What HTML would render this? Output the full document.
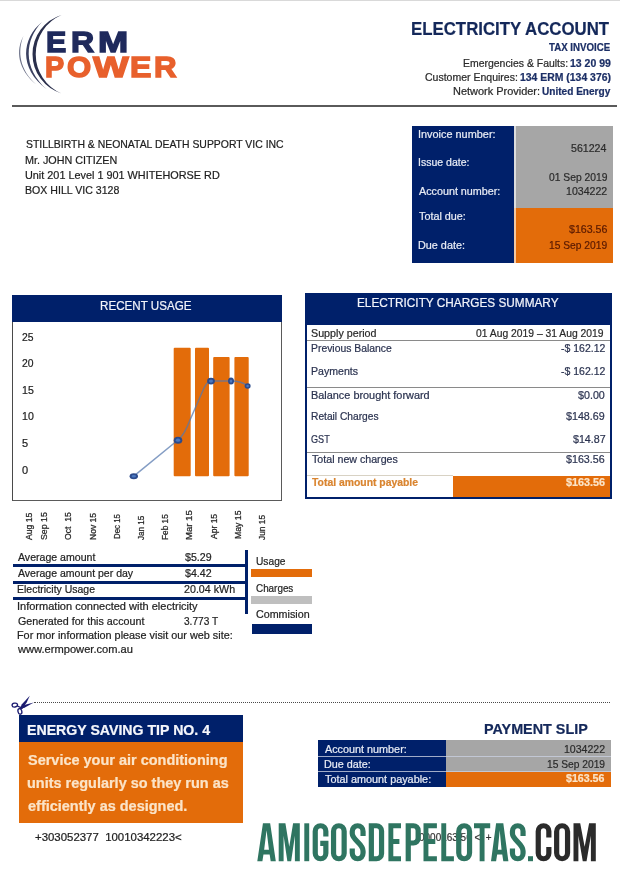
<!DOCTYPE html>
<html lang="en">
<head>
<meta charset="utf-8">
<title>ERM Power - Electricity Account</title>
<style>
html,body{margin:0;padding:0;background:#fff;}
body{width:620px;height:886px;position:relative;overflow:hidden;font-family:"Liberation Sans",sans-serif;}
.b{position:absolute;}
.t{position:absolute;white-space:pre;transform-origin:0 0;font-family:"Liberation Sans",sans-serif;-webkit-text-stroke-width:.22px;}
.m{font-size:8.3px;line-height:8.3px;color:#262626;-webkit-text-stroke:.25px #262626;}
svg{position:absolute;left:0;top:0;overflow:visible;}
</style>
</head>
<body>
<div id="pg" style="position:absolute;left:0;top:0;width:620px;height:886px;filter:blur(.38px)">
<!-- top hairline -->
<div class="b" style="left:0;top:0;width:620px;height:1px;background:#d9d9d9"></div>
<!-- header rule -->
<div class="b" style="left:12px;top:105px;width:605px;height:2px;background:#5a5a5a"></div>

<!-- invoice box -->
<div class="b" style="left:412px;top:126px;width:102.2px;height:136.5px;background:#00206a"></div>
<div class="b" style="left:514.2px;top:126px;width:98.8px;height:82px;background:#a6a6a6"></div>
<div class="b" style="left:514.2px;top:208px;width:98.8px;height:54.5px;background:#e36c0a"></div>
<div class="b" style="left:514.2px;top:126px;width:1.6px;height:136.5px;background:rgba(255,255,255,.62)"></div>

<!-- recent usage box -->
<div class="b" style="left:11.6px;top:295.2px;width:270.2px;height:205.6px;box-sizing:border-box;border:1.7px solid #5a5a5a;border-top:none;border-left-color:#4a4a4a"></div>
<div class="b" style="left:11.6px;top:295.2px;width:270.2px;height:26.7px;background:#00206a"></div>

<!-- charges summary box -->
<div class="b" style="left:305px;top:292.5px;width:307px;height:206.5px;box-sizing:border-box;border:2.2px solid #00206a"></div>
<div class="b" style="left:305px;top:292.5px;width:307px;height:32.5px;background:#00206a"></div>
<div class="b" style="left:307px;top:340px;width:303px;height:1px;background:#8a8a8a"></div>
<div class="b" style="left:307px;top:387.4px;width:303px;height:1px;background:#8a8a8a"></div>
<div class="b" style="left:307px;top:452px;width:303px;height:1px;background:#8a8a8a"></div>
<div class="b" style="left:307px;top:475.2px;width:146px;height:1.3px;background:#d8d2c4"></div>
<div class="b" style="left:453px;top:476px;width:157px;height:21px;background:#e36c0a"></div>

<!-- stats lines -->
<div class="b" style="left:12.5px;top:564.2px;width:233px;height:2.7px;background:#00206a"></div>
<div class="b" style="left:12.5px;top:580.9px;width:233px;height:2.7px;background:#00206a"></div>
<div class="b" style="left:12.5px;top:597.1px;width:233px;height:2.7px;background:#00206a"></div>
<div class="b" style="left:245px;top:550px;width:2.7px;height:63.5px;background:#00206a"></div>
<!-- legend -->
<div class="b" style="left:250.5px;top:568.6px;width:61.7px;height:8px;background:#e36c0a"></div>
<div class="b" style="left:251.3px;top:595.7px;width:60.9px;height:8px;background:#bfbfbf"></div>
<div class="b" style="left:252.4px;top:624px;width:59.8px;height:9.8px;background:#00206a"></div>

<!-- tip box -->
<div class="b" style="left:19px;top:714.5px;width:223.5px;height:27.5px;background:#00206a"></div>
<div class="b" style="left:19px;top:742px;width:223.5px;height:80.6px;background:#e36c0a"></div>

<!-- payment slip -->
<div class="b" style="left:318.3px;top:740px;width:127.5px;height:46.5px;background:#00206a"></div>
<div class="b" style="left:445.8px;top:740px;width:164.8px;height:32px;background:#a6a6a6"></div>
<div class="b" style="left:445.8px;top:772px;width:164.8px;height:14.5px;background:#e36c0a"></div>
<div class="b" style="left:318.3px;top:755.8px;width:292.3px;height:1px;background:#c9cfe0;opacity:.8"></div>
<div class="b" style="left:318.3px;top:771px;width:292.3px;height:1px;background:#c9cfe0;opacity:.8"></div>

<!-- dotted cut line -->
<div class="b" style="left:34px;top:701.5px;width:576.3px;height:0;border-top:1.2px dotted #4a4a4a"></div>

<svg width="620" height="886" viewBox="0 0 620 886">
<!-- logo arcs -->
<g fill="#2a2f4c">
<path d="M61.5 15 A41 41 0 0 0 61.5 93.4 A42.7 42.7 0 0 1 61.5 15 Z"/>
<path d="M42 22 C22 38 18 68 47 89.5 C22 68 25 39 42 22 Z" fill="#3a4060"/>
<path d="M23.5 36 C15.5 50 17.5 70 37 85 C19.3 70 17.3 51 23.5 36 Z" fill="#6c7188"/>
</g>
<!-- chart bars -->
<g fill="#e36c0a">
<rect x="173.7" y="347.7" width="17" height="128.5" rx="1"/>
<rect x="195" y="347.7" width="14" height="128.5" rx="1"/>
<rect x="213.2" y="356.9" width="16.4" height="119.3" rx="1"/>
<rect x="234.4" y="356.9" width="14.3" height="119.3" rx="1"/>
</g>
<!-- chart line -->
<path d="M133.8 476.2 L178 440 C183 436 187 428 190 420 L204 388 C206 384 208 381.3 211 381.1 L231 381.1 C238 381.1 243 382.2 247.6 386" fill="none" stroke="#5577ad" stroke-opacity=".72" stroke-width="1.5"/>
<g fill="#2c4b8c">
<ellipse cx="133.8" cy="476.2" rx="4.2" ry="3"/>
<ellipse cx="178" cy="440.2" rx="4.3" ry="3.5"/>
<ellipse cx="211" cy="381.1" rx="3.9" ry="3.4"/>
<ellipse cx="231" cy="381.1" rx="3" ry="3.5"/>
<ellipse cx="247.6" cy="386" rx="3" ry="2.8"/>
</g>
<g fill="#4a78c2">
<ellipse cx="133.8" cy="476.2" rx="2.2" ry="1.3"/>
<ellipse cx="178" cy="440.2" rx="2.2" ry="1.6"/>
<ellipse cx="211" cy="381.1" rx="2" ry="1.6"/>
<ellipse cx="231" cy="381.1" rx="1.3" ry="1.7"/>
<ellipse cx="247.6" cy="386" rx="1.3" ry="1.2"/>
</g>
<!-- scissors -->
<g fill="none" stroke="#1b1b70" stroke-width="1.35">
<ellipse cx="14.8" cy="705.1" rx="2.75" ry="1.95" transform="rotate(-8 14.8 705.1)"/>
<ellipse cx="19.9" cy="711.4" rx="1.9" ry="2.9" transform="rotate(-14 19.9 711.4)"/>
<path d="M17.3 706 L21 707.6"/>
</g>
<g fill="#1b1b70">
<path d="M19.4 709.3 L21.9 704.2 L29.8 695.8 L26.8 702.2 L22.3 708.9 Z"/>
<path d="M21.2 706.6 L26 704.6 L33.8 702.6 L25.4 707.3 L21.6 708.8 Z"/>
</g>
</svg>

<span class="t" style="left:411.35px;top:19.86px;font-size:18.6px;line-height:18.6px;font-weight:700;color:#14285a;transform:scaleX(0.9045)">ELECTRICITY ACCOUNT</span>
<span class="t" style="left:549.31px;top:42.98px;font-size:10.3px;line-height:10.3px;font-weight:700;color:#1c2f66;transform:scaleX(0.9415)">TAX INVOICE</span>
<span class="t" style="left:463.06px;top:57.83px;font-size:10.6px;line-height:10.6px;color:#2a2a2a;transform:scaleX(0.9863)">Emergencies &amp; Faults:</span>
<span class="t" style="left:569.66px;top:57.83px;font-size:10.6px;line-height:10.6px;font-weight:700;color:#1c2f66;transform:scaleX(0.9909)">13 20 99</span>
<span class="t" style="left:425.00px;top:71.63px;font-size:10.6px;line-height:10.6px;color:#2a2a2a;transform:scaleX(0.9921)">Customer Enquires:</span>
<span class="t" style="left:519.86px;top:71.63px;font-size:10.6px;line-height:10.6px;font-weight:700;color:#1c2f66;transform:scaleX(0.9838)">134 ERM (134 376)</span>
<span class="t" style="left:453.12px;top:86.23px;font-size:10.6px;line-height:10.6px;color:#2a2a2a;transform:scaleX(1.0335)">Network Provider:</span>
<span class="t" style="left:541.93px;top:86.23px;font-size:10.6px;line-height:10.6px;font-weight:700;color:#1c2f66;transform:scaleX(0.9507)">United Energy</span>
<span class="t" style="left:25.57px;top:139.09px;font-size:11px;line-height:11px;color:#1e1e1e;transform:scaleX(0.9486)">STILLBIRTH &amp; NEONATAL DEATH SUPPORT VIC INC</span>
<span class="t" style="left:25.12px;top:154.59px;font-size:11px;line-height:11px;color:#1e1e1e;transform:scaleX(0.9804)">Mr. JOHN CITIZEN</span>
<span class="t" style="left:25.21px;top:170.09px;font-size:11px;line-height:11px;color:#1e1e1e;transform:scaleX(0.9864)">Unit 201 Level 1 901 WHITEHORSE RD</span>
<span class="t" style="left:25.13px;top:185.49px;font-size:11px;line-height:11px;color:#1e1e1e;transform:scaleX(0.9622)">BOX HILL VIC 3128</span>
<span class="t" style="left:417.91px;top:129.49px;font-size:11px;line-height:11px;color:#e8ecf5;transform:scaleX(0.9907)">Invoice number:</span>
<span class="t" style="left:417.94px;top:157.19px;font-size:11px;line-height:11px;color:#e8ecf5;transform:scaleX(0.9565)">Issue date:</span>
<span class="t" style="left:418.90px;top:185.99px;font-size:11px;line-height:11px;color:#e8ecf5;transform:scaleX(0.9781)">Account number:</span>
<span class="t" style="left:418.70px;top:210.69px;font-size:11px;line-height:11px;color:#e8ecf5;transform:scaleX(0.9819)">Total due:</span>
<span class="t" style="left:418.01px;top:239.79px;font-size:11px;line-height:11px;color:#e8ecf5;transform:scaleX(0.9838)">Due date:</span>
<span class="t" style="left:571.41px;top:142.69px;font-size:11px;line-height:11px;color:#2b2b2b;transform:scaleX(0.9642)">561224</span>
<span class="t" style="left:548.53px;top:171.79px;font-size:11px;line-height:11px;color:#2b2b2b;transform:scaleX(0.9370)">01 Sep 2019</span>
<span class="t" style="left:565.83px;top:185.99px;font-size:11px;line-height:11px;color:#2b2b2b;transform:scaleX(0.9613)">1034222</span>
<span class="t" style="left:568.60px;top:224.49px;font-size:11px;line-height:11px;color:#5a1a00;transform:scaleX(0.9644)">$163.56</span>
<span class="t" style="left:548.85px;top:239.79px;font-size:11px;line-height:11px;color:#5a1a00;transform:scaleX(0.9317)">15 Sep 2019</span>
<span class="t" style="left:100.39px;top:298.90px;font-size:13px;line-height:13px;color:#f2f4fa;transform:scaleX(0.8940)">RECENT USAGE</span>
<span class="t" style="left:21.78px;top:331.59px;font-size:11px;line-height:11px;color:#222;transform:scaleX(0.9407)">25</span>
<span class="t" style="left:21.78px;top:357.89px;font-size:11px;line-height:11px;color:#222;transform:scaleX(0.9407)">20</span>
<span class="t" style="left:21.53px;top:384.99px;font-size:11px;line-height:11px;color:#222;transform:scaleX(0.9621)">15</span>
<span class="t" style="left:21.53px;top:411.09px;font-size:11px;line-height:11px;color:#222;transform:scaleX(0.9621)">10</span>
<span class="t" style="left:21.90px;top:438.39px;font-size:11px;line-height:11px;color:#222;transform:scaleX(1.0000)">5</span>
<span class="t" style="left:21.90px;top:464.99px;font-size:11px;line-height:11px;color:#222;transform:scaleX(1.0000)">0</span>
<span class="t" style="left:357.33px;top:297.16px;font-size:12.8px;line-height:12.8px;color:#f2f4fa;transform:scaleX(0.9222)">ELECTRICITY CHARGES SUMMARY</span>
<span class="t" style="left:311.26px;top:328.29px;font-size:11px;line-height:11px;color:#2a2a2a;transform:scaleX(0.9735)">Supply period</span>
<span class="t" style="left:476.22px;top:328.29px;font-size:11px;line-height:11px;color:#2a2a2a;transform:scaleX(0.9391)">01 Aug 2019 – 31 Aug 2019</span>
<span class="t" style="left:310.85px;top:342.89px;font-size:11px;line-height:11px;color:#2b3350;transform:scaleX(0.9438)">Previous Balance</span>
<span class="t" style="left:560.57px;top:342.89px;font-size:11px;line-height:11px;color:#2b3350;transform:scaleX(0.9536)">-$ 162.12</span>
<span class="t" style="left:310.84px;top:366.19px;font-size:11px;line-height:11px;color:#2b3350;transform:scaleX(0.9610)">Payments</span>
<span class="t" style="left:560.57px;top:366.19px;font-size:11px;line-height:11px;color:#2b3350;transform:scaleX(0.9536)">-$ 162.12</span>
<span class="t" style="left:310.81px;top:389.99px;font-size:11px;line-height:11px;color:#2b3350;transform:scaleX(0.9900)">Balance brought forward</span>
<span class="t" style="left:578.20px;top:389.99px;font-size:11px;line-height:11px;color:#2b3350;transform:scaleX(0.9737)">$0.00</span>
<span class="t" style="left:310.86px;top:411.29px;font-size:11px;line-height:11px;color:#2b3350;transform:scaleX(0.9286)">Retail Charges</span>
<span class="t" style="left:566.40px;top:411.29px;font-size:11px;line-height:11px;color:#2b3350;transform:scaleX(0.9733)">$148.69</span>
<span class="t" style="left:311.24px;top:433.79px;font-size:11px;line-height:11px;color:#2b3350;transform:scaleX(0.8286)">GST</span>
<span class="t" style="left:572.50px;top:433.79px;font-size:11px;line-height:11px;color:#2b3350;transform:scaleX(0.9689)">$14.87</span>
<span class="t" style="left:311.51px;top:454.39px;font-size:11px;line-height:11px;color:#2b3350;transform:scaleX(0.9681)">Total new charges</span>
<span class="t" style="left:566.40px;top:454.39px;font-size:11px;line-height:11px;color:#2b3350;transform:scaleX(0.9721)">$163.56</span>
<span class="t" style="left:311.61px;top:477.19px;font-size:11px;line-height:11px;font-weight:700;color:#d9842f;transform:scaleX(0.9446)">Total amount payable</span>
<span class="t" style="left:565.90px;top:477.19px;font-size:11px;line-height:11px;font-weight:700;color:#fbe4c8;transform:scaleX(0.9823)">$163.56</span>
<span class="t" style="left:18.20px;top:551.89px;font-size:11px;line-height:11px;color:#232323;transform:scaleX(0.9607)">Average amount</span>
<span class="t" style="left:184.60px;top:551.89px;font-size:11px;line-height:11px;color:#232323;transform:scaleX(0.9662)">$5.29</span>
<span class="t" style="left:18.20px;top:568.09px;font-size:11px;line-height:11px;color:#232323;transform:scaleX(0.9571)">Average amount per day</span>
<span class="t" style="left:184.60px;top:568.09px;font-size:11px;line-height:11px;color:#232323;transform:scaleX(0.9662)">$4.42</span>
<span class="t" style="left:17.34px;top:584.49px;font-size:11px;line-height:11px;color:#232323;transform:scaleX(0.9522)">Electricity Usage</span>
<span class="t" style="left:184.17px;top:584.49px;font-size:11px;line-height:11px;color:#232323;transform:scaleX(0.9715)">20.04 kWh</span>
<span class="t" style="left:17.20px;top:601.49px;font-size:11px;line-height:11px;color:#232323;transform:scaleX(1.0013)">Information connected with electricity</span>
<span class="t" style="left:17.66px;top:615.99px;font-size:11px;line-height:11px;color:#232323;transform:scaleX(0.9750)">Generated for this account</span>
<span class="t" style="left:184.33px;top:615.99px;font-size:11px;line-height:11px;color:#232323;transform:scaleX(0.9187)">3.773 T</span>
<span class="t" style="left:17.31px;top:629.69px;font-size:11px;line-height:11px;color:#232323;transform:scaleX(0.9857)">For mor information please visit our web site:</span>
<span class="t" style="left:18.25px;top:644.29px;font-size:11px;line-height:11px;color:#232323;transform:scaleX(1.0112)">www.ermpower.com.au</span>
<span class="t" style="left:255.76px;top:556.29px;font-size:11px;line-height:11px;color:#232323;transform:scaleX(0.9270)">Usage</span>
<span class="t" style="left:256.01px;top:582.89px;font-size:11px;line-height:11px;color:#232323;transform:scaleX(0.8973)">Charges</span>
<span class="t" style="left:255.96px;top:609.19px;font-size:11px;line-height:11px;color:#232323;transform:scaleX(0.9741)">Commision</span>
<span class="t" style="left:27.12px;top:722.71px;font-size:14.4px;line-height:14.4px;font-weight:700;color:#f4f6fb;transform:scaleX(0.9825)">ENERGY SAVING TIP NO. 4</span>
<span class="t" style="left:27.77px;top:752.98px;font-size:14.2px;line-height:14.2px;font-weight:700;color:#fbe4c8;transform:scaleX(1.0203)">Service your air conditioning</span>
<span class="t" style="left:27.32px;top:776.18px;font-size:14.2px;line-height:14.2px;font-weight:700;color:#fbe4c8;transform:scaleX(1.0197)">units regularly so they run as</span>
<span class="t" style="left:27.55px;top:799.08px;font-size:14.2px;line-height:14.2px;font-weight:700;color:#fbe4c8;transform:scaleX(1.0209)">efficiently as designed.</span>
<span class="t" style="left:34.58px;top:832.49px;font-size:11px;line-height:11px;color:#222;transform:scaleX(1.0379)">+303052377  10010342223&lt;</span>
<span class="t" style="left:418.64px;top:832.29px;font-size:11px;line-height:11px;color:#333;transform:scaleX(0.9065)">0000163.56 &lt;  +</span>
<span class="t" style="left:484.10px;top:722.31px;font-size:14.4px;line-height:14.4px;font-weight:700;color:#14285a;transform:scaleX(0.9977)">PAYMENT SLIP</span>
<span class="t" style="left:325.00px;top:744.29px;font-size:11px;line-height:11px;color:#e8ecf5;transform:scaleX(0.9830)">Account number:</span>
<span class="t" style="left:324.12px;top:758.89px;font-size:11px;line-height:11px;color:#e8ecf5;transform:scaleX(0.9816)">Due date:</span>
<span class="t" style="left:324.80px;top:773.69px;font-size:11px;line-height:11px;color:#e8ecf5;transform:scaleX(0.9862)">Total amount payable:</span>
<span class="t" style="left:563.73px;top:744.09px;font-size:11px;line-height:11px;color:#2b2b2b;transform:scaleX(0.9589)">1034222</span>
<span class="t" style="left:546.76px;top:758.59px;font-size:11px;line-height:11px;color:#2b2b2b;transform:scaleX(0.9300)">15 Sep 2019</span>
<span class="t" style="left:566.20px;top:773.29px;font-size:11px;line-height:11px;font-weight:700;color:#fbe4c8;transform:scaleX(0.9671)">$163.56</span>
<span class="t" style="left:45.79px;top:27.98px;font-size:29.2px;line-height:29.2px;font-weight:700;color:#1f2a5c;-webkit-text-stroke:1.4px #1f2a5c;transform:scaleX(1.0420)">E</span>
<span class="t" style="left:70.68px;top:27.98px;font-size:29.2px;line-height:29.2px;font-weight:700;color:#1f2a5c;-webkit-text-stroke:1.4px #1f2a5c;transform:scaleX(1.0985)">R</span>
<span class="t" style="left:97.91px;top:27.98px;font-size:29.2px;line-height:29.2px;font-weight:700;color:#1f2a5c;-webkit-text-stroke:1.4px #1f2a5c;transform:scaleX(1.2409)">M</span>
<span class="t" style="left:45.10px;top:52.88px;font-size:29.2px;line-height:29.2px;font-weight:700;color:#e8602c;-webkit-text-stroke:1.4px #e8602c;transform:scaleX(0.9845)">P</span>
<span class="t" style="left:67.43px;top:52.88px;font-size:29.2px;line-height:29.2px;font-weight:700;color:#e8602c;-webkit-text-stroke:1.4px #e8602c;transform:scaleX(1.0644)">O</span>
<span class="t" style="left:92.66px;top:52.88px;font-size:29.2px;line-height:29.2px;font-weight:700;color:#e8602c;-webkit-text-stroke:1.4px #e8602c;transform:scaleX(1.2942)">W</span>
<span class="t" style="left:130.19px;top:52.88px;font-size:29.2px;line-height:29.2px;font-weight:700;color:#e8602c;-webkit-text-stroke:1.4px #e8602c;transform:scaleX(1.0969)">E</span>
<span class="t" style="left:154.43px;top:52.88px;font-size:29.2px;line-height:29.2px;font-weight:700;color:#e8602c;-webkit-text-stroke:1.4px #e8602c;transform:scaleX(1.0716)">R</span>
<span class="t m" style="left:24.87px;top:539.50px;transform:rotate(-90deg) scaleX(1.0427)">Aug 15</span>
<span class="t m" style="left:39.57px;top:539.87px;transform:rotate(-90deg) scaleX(1.0569)">Sep 15</span>
<span class="t m" style="left:64.47px;top:539.86px;transform:rotate(-90deg) scaleX(1.0387)">Oct  15</span>
<span class="t m" style="left:88.77px;top:540.17px;transform:rotate(-90deg) scaleX(1.0264)">Nov 15</span>
<span class="t m" style="left:113.17px;top:539.42px;transform:rotate(-90deg) scaleX(0.9514)">Dec 15</span>
<span class="t m" style="left:137.37px;top:540.30px;transform:rotate(-90deg) scaleX(0.9753)">Jan 15</span>
<span class="t m" style="left:161.07px;top:540.15px;transform:rotate(-90deg) scaleX(0.9970)">Feb 15</span>
<span class="t m" style="left:185.47px;top:539.55px;transform:rotate(-90deg) scaleX(1.1502)">Mar 15</span>
<span class="t m" style="left:209.57px;top:538.80px;transform:rotate(-90deg) scaleX(1.0274)">Apr 15</span>
<span class="t m" style="left:233.97px;top:539.48px;transform:rotate(-90deg) scaleX(1.0475)">May 15</span>
<span class="t m" style="left:258.17px;top:540.30px;transform:rotate(-90deg) scaleX(1.0121)">Jun 15</span>
<svg width="620" height="886" viewBox="0 0 620 886">
<path d="M257.3 861.2L262.95 823.3H270.15L275.8 861.2H270.7L269.65 854.49H263.45L262.4 861.2ZM266.55 830.3L264.15 849.83H268.95Z" fill="#2f7561" fill-rule="evenodd"/>
<path d="M278.7 861.2V823.3H285.4L289.25 846.8L293.1 823.3H299.8V861.2H294.9V835.81L291.15 861.2H287.35L283.6 835.81V861.2Z" fill="#2f7561"/>
<path d="M304.3 823.3H309.2V861.2H304.3Z" fill="#2f7561"/>
<path d="M325.85 836.52V831.32A5.3 5.57 0 0 0 315.25 831.32V853.18A5.3 5.57 0 0 0 325.85 853.18V843.45H320.25" fill="none" stroke="#2f7561" stroke-width="5.2" stroke-linejoin="miter"/>
<path d="M333.55 831.32A5.3 5.57 0 0 1 344.15 831.32V853.18A5.3 5.57 0 0 1 333.55 853.18Z" fill="none" stroke="#2f7561" stroke-width="5.2" stroke-linejoin="miter"/>
<path d="M363.05 836.02V831.42A5.4 5.67 0 0 0 352.25 831.42V833.62C352.25 839.92 363.05 843.58 363.05 850.88V853.08A5.4 5.67 0 0 1 352.25 853.08V848.48" fill="none" stroke="#2f7561" stroke-width="5.2" stroke-linejoin="miter"/>
<path d="M371.35 825.75H376.45A5.1 5.36 0 0 1 381.55 831.11V853.39A5.1 5.36 0 0 1 376.45 858.75H371.35Z" fill="none" stroke="#2f7561" stroke-width="5.2" stroke-linejoin="miter"/>
<path d="M388.4 823.3H401V828.2H393.3V839H399.4V843.9H393.3V856.3H401V861.2H388.4Z" fill="#2f7561"/>
<path d="M408.25 861.2V825.75H413.45A4.7 4.7 0 0 1 418.15 830.45V838.32A4.7 4.7 0 0 1 413.45 843.02H408.25" fill="none" stroke="#2f7561" stroke-width="5.2" stroke-linejoin="miter"/>
<path d="M423.5 823.3H436.9V828.2H428.4V839H435.3V843.9H428.4V856.3H436.9V861.2H423.5Z" fill="#2f7561"/>
<path d="M441.3 823.3H446.2V856.3H453.9V861.2H441.3Z" fill="#2f7561"/>
<path d="M458.75 831.42A5.4 5.67 0 0 1 469.55 831.42V853.08A5.4 5.67 0 0 1 458.75 853.08Z" fill="none" stroke="#2f7561" stroke-width="5.2" stroke-linejoin="miter"/>
<path d="M474 823.3H490.2V828.2H484.55V861.2H479.65V828.2H474Z" fill="#2f7561"/>
<path d="M491 861.2L496.1 823.3H503.3L508.4 861.2H503.3L502.25 854.49H497.15L496.1 861.2ZM499.7 830.3L497.85 849.83H501.55Z" fill="#2f7561" fill-rule="evenodd"/>
<path d="M523.05 835.91V831.31A5.3 5.56 0 0 0 512.45 831.31V833.51C512.45 839.81 523.05 843.69 523.05 850.99V853.19A5.3 5.56 0 0 1 512.45 853.19V848.59" fill="none" stroke="#2f7561" stroke-width="5.2" stroke-linejoin="miter"/>
<path d="M528 856.2H533V861.2H528Z" fill="#2f7561"/>
<path d="M548.85 837.51V831.31A5.3 5.56 0 0 0 538.25 831.31V853.19A5.3 5.56 0 0 0 548.85 853.19V846.99" fill="none" stroke="#2b2b2b" stroke-width="5.2" stroke-linejoin="miter"/>
<path d="M556.65 831.47A5.45 5.72 0 0 1 567.55 831.47V853.03A5.45 5.72 0 0 1 556.65 853.03Z" fill="none" stroke="#2b2b2b" stroke-width="5.2" stroke-linejoin="miter"/>
<path d="M573.5 861.2V823.3H580.2L584.65 846.8L589.1 823.3H595.8V861.2H590.9V835.81L586.55 861.2H582.75L578.4 835.81V861.2Z" fill="#2b2b2b"/>
</svg>
</div>
</body>
</html>
